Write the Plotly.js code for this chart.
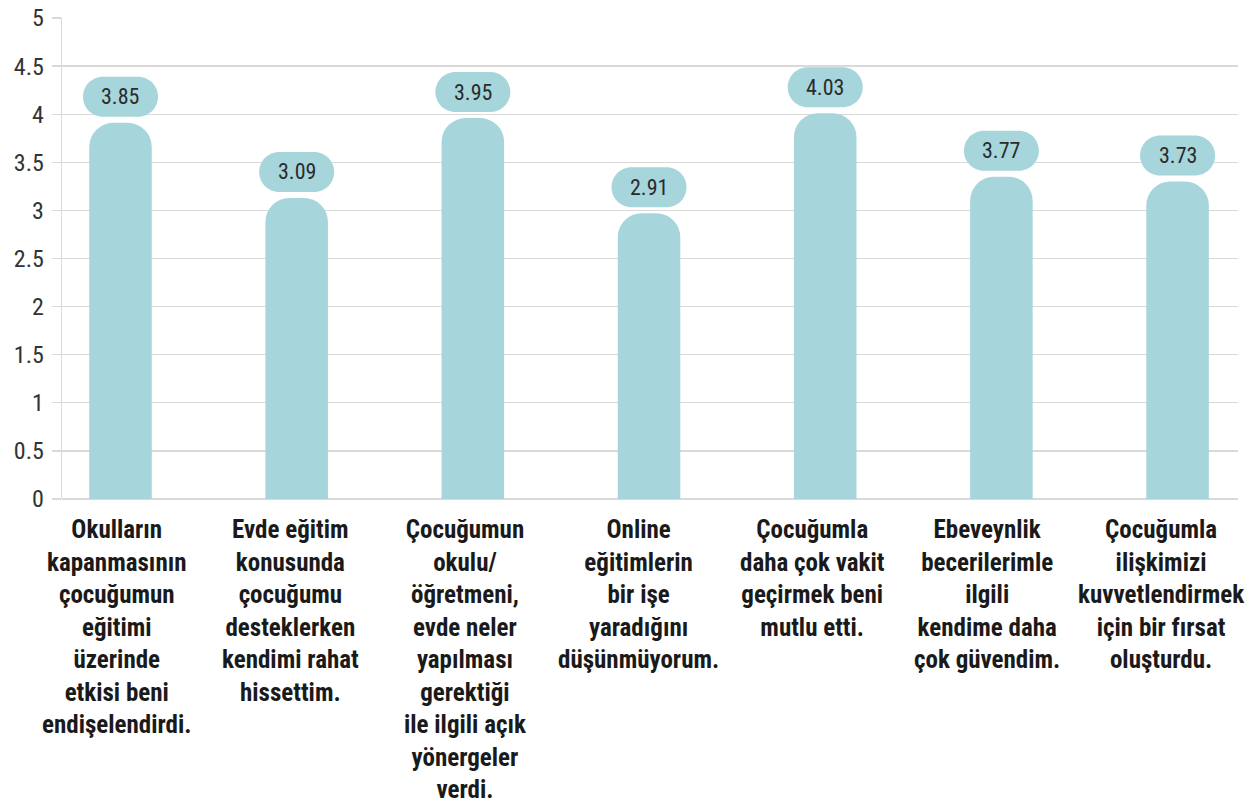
<!DOCTYPE html>
<html>
<head>
<meta charset="utf-8">
<script src="https://cdn.plot.ly/plotly-3.0.1.min.js"></script>
<style>html,body{margin:0;padding:0;background:#fff;}#chart{width:1258px;height:804px;}</style>
</head>
<body>
<div id="chart"></div>
<script>
// Categories (x-axis labels)
const categories = [
  "Okulların<br>kapanmasının<br>çocuğumun<br>eğitimi<br>üzerinde<br>etkisi beni<br>endişelendirdi.",
  "Evde eğitim<br>konusunda<br>çocuğumu<br>desteklerken<br>kendimi rahat<br>hissettim.",
  "Çocuğumun<br>okulu/<br>öğretmeni,<br>evde neler<br>yapılması<br>gerektiği<br>ile ilgili açık<br>yönergeler<br>verdi.",
  "Online<br>eğitimlerin<br>bir işe<br>yaradığını<br>düşünmüyorum.",
  "Çocuğumla<br>daha çok vakit<br>geçirmek beni<br>mutlu etti.",
  "Ebeveynlik<br>becerilerimle<br>ilgili<br>kendime daha<br>çok güvendim.",
  "Çocuğumla<br>ilişkimizi<br>kuvvetlendirmek<br>için bir fırsat<br>oluşturdu."
];
// Bar heights as drawn in the picture
const barValues = [3.91, 3.13, 3.96, 2.97, 4.01, 3.35, 3.30];
// Data labels shown in the pills
const labelValues = ["3.85", "3.09", "3.95", "2.91", "4.03", "3.77", "3.73"];
// Y-axis ticks
const yTicks = [0, 0.5, 1, 1.5, 2, 2.5, 3, 3.5, 4, 4.5, 5];

const FONT = "'Roboto Condensed', 'Roboto', sans-serif";
const BAR = "#a6d5dc";
const GRID = "#d9d9d9";

const idx = categories.map((_, i) => i);

const trace = {
  type: "bar",
  x: idx,
  y: barValues,
  width: 0.355,
  marker: {color: BAR, cornerradius: 24, line: {width: 0}},
  hoverinfo: "skip"
};

// pill path (pixels, relative to anchor at bar top, y up)
function pillPath(cx, cy, w, h) {
  const r = h / 2, k = 0.5523 * r;
  const xl = cx - w / 2 + r, xr = cx + w / 2 - r;
  const yb = cy - r, yt = cy + r;
  return `M ${xl},${yb} L ${xr},${yb} C ${xr + k},${yb} ${xr + r},${cy - k} ${xr + r},${cy} ` +
         `C ${xr + r},${cy + k} ${xr + k},${yt} ${xr},${yt} L ${xl},${yt} ` +
         `C ${xl - k},${yt} ${xl - r},${cy + k} ${xl - r},${cy} ` +
         `C ${xl - r},${cy - k} ${xl - k},${yb} ${xl},${yb} Z`;
}

const shapes = idx.map(i => ({
  type: "path",
  xref: "x", yref: "y",
  xsizemode: "pixel", ysizemode: "pixel",
  xanchor: i, yanchor: barValues[i],
  path: pillPath(0, 26, 75, 40),
  fillcolor: BAR,
  line: {width: 0},
  layer: "above"
}));

const valueLabels = idx.map(i => ({
  x: i, y: barValues[i], xref: "x", yref: "y",
  yshift: 26, showarrow: false,
  text: labelValues[i],
  font: {family: FONT, size: 22, color: "#2b2b2b"},
  xanchor: "center", yanchor: "middle"
}));

// category labels below the axis (slightly tighter spacing than the bars)
const catLabels = idx.map(i => ({
  x: i, y: 0, xref: "x", yref: "y",
  xanchor: "center", yanchor: "top",
  xshift: -3.5 - 2.25 * i, yshift: -14,
  showarrow: false, align: "center",
  text: "<b>" + categories[i] + "</b>",
  font: {family: FONT, size: 25, color: "#1a1a1a"}
}));

const layout = {
  width: 1258, height: 804,
  margin: {l: 62, r: 20, t: 18, b: 305},
  paper_bgcolor: "#fff", plot_bgcolor: "#fff",
  showlegend: false,
  font: {family: FONT, color: "#222"},
  xaxis: {
    type: "linear",
    range: [-0.332, 6.343],
    showticklabels: false,
    showgrid: false, zeroline: false, showline: false,
    ticks: "",
    fixedrange: true
  },
  yaxis: {
    range: [0, 5],
    tickmode: "array",
    tickvals: yTicks,
    ticktext: yTicks.map(String),
    tickfont: {family: FONT, size: 24, color: "#333"},
    ticklabelstandoff: 3,
    showgrid: true, gridcolor: GRID, gridwidth: 1.3,
    zeroline: true, zerolinecolor: GRID, zerolinewidth: 1.3,
    showline: true, linecolor: GRID, linewidth: 1.3,
    ticks: "outside", ticklen: 9, tickcolor: GRID, tickwidth: 1.3,
    fixedrange: true
  },
  shapes: shapes,
  annotations: valueLabels.concat(catLabels)
};

Plotly.newPlot("chart", [trace], layout, {displayModeBar: false, staticPlot: true});
</script>
</body>
</html>
